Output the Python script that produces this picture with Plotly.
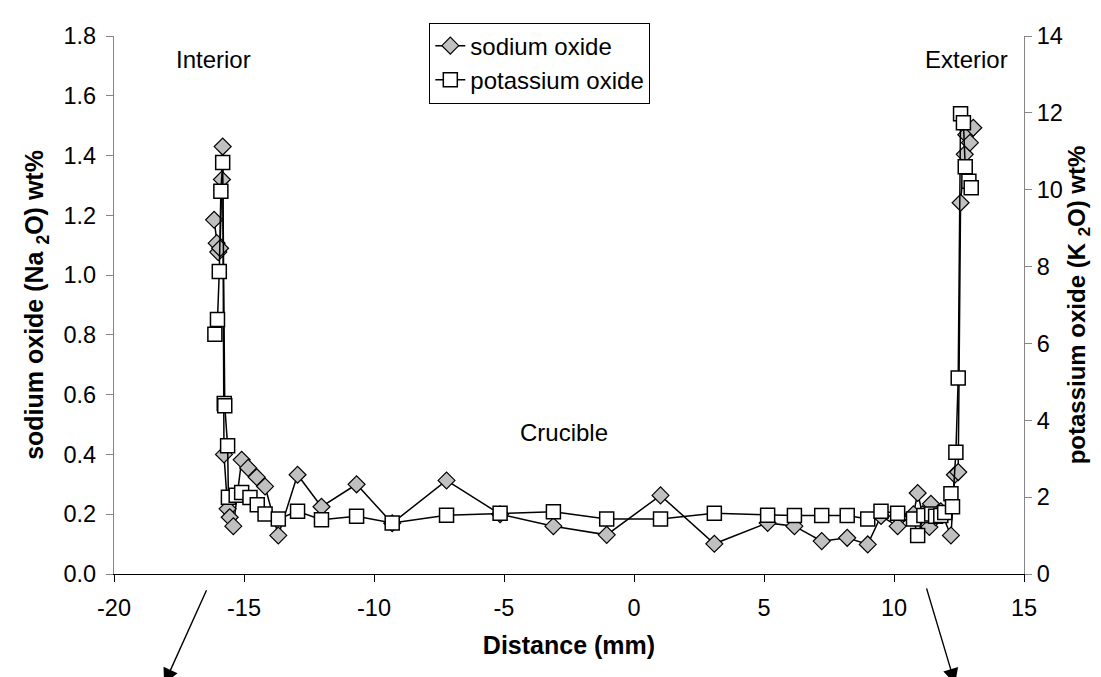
import plotly.graph_objects as go

# Sodium oxide (left axis, wt%)
na_x = [-16.15, -16.05, -15.99, -15.92, -15.85, -15.82, -15.77, -15.63, -15.55, -15.41,
        -15.09, -14.84, -14.51, -14.19, -13.68, -12.94, -12.02, -10.67, -9.30, -7.21,
        -5.15, -3.10, -1.05, 1.02, 3.09, 5.14, 6.17, 7.22, 8.20, 8.99,
        9.50, 10.14, 10.75, 10.91, 11.10, 11.36, 11.42, 11.60, 11.80, 12.19,
        12.34, 12.47, 12.56, 12.72, 12.78, 12.92, 13.05]
na_y = [1.185, 1.107, 1.077, 1.09, 1.32, 1.43, 0.40, 0.218, 0.19, 0.16,
        0.382, 0.355, 0.324, 0.293, 0.129, 0.332, 0.225, 0.30, 0.17, 0.313,
        0.20, 0.16, 0.131, 0.263, 0.101, 0.171, 0.16, 0.110, 0.121, 0.099,
        0.194, 0.16, 0.20, 0.271, 0.20, 0.157, 0.235, 0.19, 0.21, 0.129,
        0.332, 0.341, 1.242, 1.404, 1.47, 1.443, 1.493]

# Potassium oxide (right axis, wt%)
k_x = [-16.12, -16.02, -15.95, -15.89, -15.82, -15.76, -15.74, -15.63, -15.60, -15.30,
       -15.09, -14.77, -14.49, -14.19, -13.68, -12.94, -12.02, -10.67, -9.30, -7.21,
       -5.15, -3.10, -1.05, 1.02, 3.09, 5.14, 6.17, 7.22, 8.20, 8.99,
       9.50, 10.14, 10.75, 10.91, 11.15, 11.45, 11.60, 11.80, 11.95, 12.19,
       12.25, 12.38, 12.47, 12.56, 12.67, 12.74, 12.88, 12.97]
k_y = [6.24, 6.62, 7.87, 9.96, 10.71, 4.44, 4.38, 3.34, 2.00, 2.05,
       2.12, 1.99, 1.80, 1.56, 1.43, 1.63, 1.41, 1.50, 1.33, 1.53,
       1.58, 1.62, 1.43, 1.43, 1.58, 1.53, 1.52, 1.52, 1.52, 1.43,
       1.63, 1.58, 1.43, 1.00, 1.52, 1.56, 1.50, 1.52, 1.60, 2.09,
       1.75, 3.17, 5.10, 11.98, 11.74, 10.60, 10.22, 10.05]

x_ticks = [-20, -15, -10, -5, 0, 5, 10, 15]
x_tick_text = ["-20", "-15", "-10", "-5", "0", "5", "10", "15"]
na_ticks = [0.0, 0.2, 0.4, 0.6, 0.8, 1.0, 1.2, 1.4, 1.6, 1.8]
na_tick_text = ["0.0", "0.2", "0.4", "0.6", "0.8", "1.0", "1.2", "1.4", "1.6", "1.8"]
k_ticks = [0, 2, 4, 6, 8, 10, 12, 14]
k_tick_text = ["0", "2", "4", "6", "8", "10", "12", "14"]

FONT = "Arial, Liberation Sans, sans-serif"
AXIS_GRAY = "#868686"

fig = go.Figure()
fig.add_trace(go.Scatter(
    x=na_x, y=na_y, name="sodium oxide", mode="lines+markers", legendgroup="na",
    line=dict(color="black", width=1.5),
    marker=dict(symbol="diamond", size=13, color="#C0C0C0", line=dict(color="black", width=1.2)),
    yaxis="y"))
fig.add_trace(go.Scatter(
    x=k_x, y=k_y, name="potassium oxide", mode="lines+markers", legendgroup="k",
    line=dict(color="black", width=1.5),
    marker=dict(symbol="square", size=14, color="white", line=dict(color="black", width=1.5)),
    yaxis="y2"))

fig.update_layout(
    width=1101, height=677,
    margin=dict(l=106, r=85, t=28, b=111),
    paper_bgcolor="white", plot_bgcolor="white",
    font=dict(family=FONT, size=23.5, color="black"),
    showlegend=True,
    legend=dict(x=0.3465, y=1.025, xanchor="left", yanchor="top",
                bordercolor="black", borderwidth=1, bgcolor="white",
                font=dict(size=24), tracegroupgap=0),
    xaxis=dict(range=[-20, 15], tickvals=x_ticks, ticktext=x_tick_text, showgrid=False, zeroline=False,
               showline=True, linecolor="black", linewidth=1.2,
               ticks="outside", ticklen=7, tickcolor="black", ticklabelstandoff=6,
               title=dict(text="<b>Distance (mm)</b>", font=dict(size=25), standoff=16)),
    yaxis=dict(range=[0, 1.8], tickvals=na_ticks, ticktext=na_tick_text, showgrid=False, zeroline=False,
               showline=True, linecolor=AXIS_GRAY, linewidth=1.2,
               ticks="outside", ticklen=7, tickcolor=AXIS_GRAY, ticklabelstandoff=5,
               title=dict(text="<b>sodium oxide (Na <sub>2</sub>O) wt%</b>", font=dict(size=25), standoff=12)),
    yaxis2=dict(range=[0, 14], tickvals=k_ticks, ticktext=k_tick_text, overlaying="y", side="right",
                showgrid=False, zeroline=False,
                showline=True, linecolor=AXIS_GRAY, linewidth=1.2,
                ticks="outside", ticklen=7, tickcolor=AXIS_GRAY, ticklabelstandoff=0,
                title=dict(text="<b>potassium oxide (K <sub>2</sub>O) wt%</b>", font=dict(size=24), standoff=2)),
)

fig.add_annotation(x=-16.18, y=1.72, xref="x", yref="y", text="Interior", showarrow=False, font=dict(size=24))
fig.add_annotation(x=12.79, y=1.72, xref="x", yref="y", text="Exterior", showarrow=False, font=dict(size=24))
fig.add_annotation(x=-2.68, y=0.472, xref="x", yref="y", text="Crucible", showarrow=False, font=dict(size=24))

# Arrows below the axis
fig.add_annotation(x=-18.07, y=-0.206, xref="x", yref="paper", text="", showarrow=True,
                   ax=43, ay=-96, arrowhead=2, arrowsize=2.2, arrowwidth=1.4, arrowcolor="black")
fig.add_annotation(x=12.35, y=-0.206, xref="x", yref="paper", text="", showarrow=True,
                   ax=-29, ay=-98, arrowhead=2, arrowsize=2.2, arrowwidth=1.4, arrowcolor="black")

fig.write_html("out.html")
